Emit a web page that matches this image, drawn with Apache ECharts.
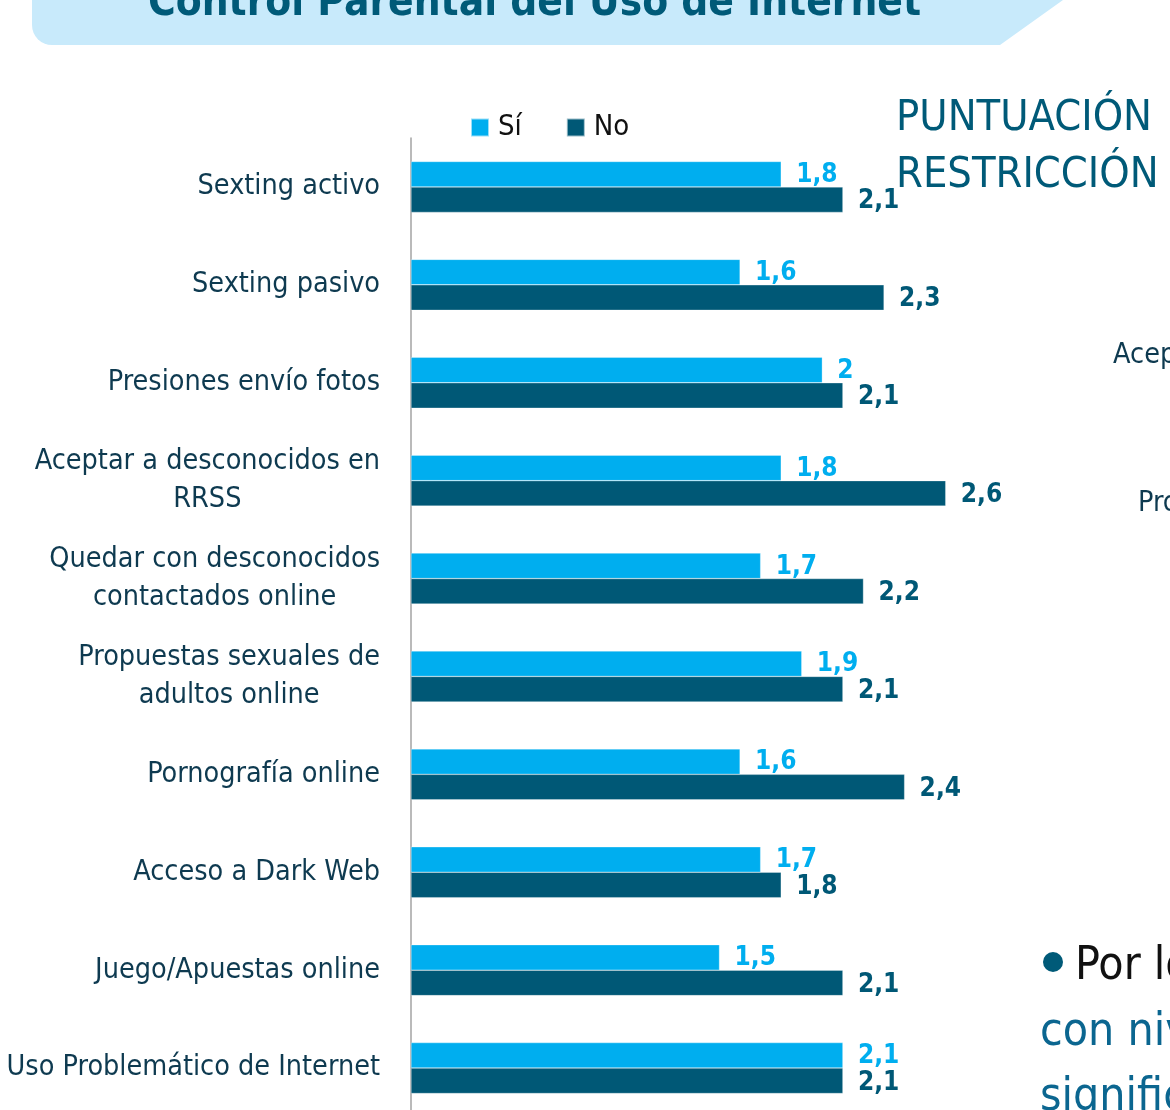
<!DOCTYPE html>
<html>
<head>
<meta charset="utf-8">
<title>Control Parental del Uso de Internet</title>
<script src="https://cdn.jsdelivr.net/npm/echarts@6/dist/echarts.min.js"></script>
<style>
  html, body { margin: 0; padding: 0; background: #ffffff; overflow: hidden; }
  #chart { width: 1170px; height: 1110px; }
</style>
</head>
<body>
<div id="chart"></div>
<script>
// Risk behaviours (top to bottom)
const categories = [
  'Sexting activo',
  'Sexting pasivo',
  'Presiones envío fotos',
  'Aceptar a desconocidos en\nRRSS',
  'Quedar con desconocidos\ncontactados online',
  'Propuestas sexuales de\nadultos online',
  'Pornografía online',
  'Acceso a Dark Web',
  'Juego/Apuestas online',
  'Uso Problemático de Internet'
];
// Restriction score with / without parental control
const valuesSi = [1.8, 1.6, 2, 1.8, 1.7, 1.9, 1.6, 1.7, 1.5, 2.1];
const valuesNo = [2.1, 2.3, 2.1, 2.6, 2.2, 2.1, 2.4, 1.8, 2.1, 2.1];
const seriesNames = ['Sí', 'No'];

const FONT = '"Liberation Sans Narrow", "DejaVu Sans Condensed", "Noto Sans", sans-serif';
const COLOR_SI = '#00aeef';
const COLOR_NO = '#005876';
const TEAL = '#005a78';
const NAVY = '#0e3a50';

const fmt = v => String(v).replace('.', ',');

const chart = echarts.init(document.getElementById('chart'));

chart.setOption({
  animation: false,
  textStyle: { fontFamily: FONT },
  legend: {
    data: seriesNames,
    left: 470,
    top: 113,
    padding: 0,
    icon: 'rect',
    itemWidth: 18,
    itemHeight: 18,
    itemGap: 44,
    textStyle: { fontSize: 29, color: '#111111', fontFamily: FONT, padding: [0, 0, 0, 4], lineHeight: 29 }
  },
  grid: { left: 411, top: 138, right: 142, bottom: -7, containLabel: false, outerBoundsMode: 'none' },
  xAxis: {
    type: 'value',
    min: 0,
    max: 3,
    show: false
  },
  yAxis: {
    type: 'category',
    data: categories,
    inverse: true,
    axisLine: { show: true, lineStyle: { color: '#a3a3a3', width: 1.5 } },
    axisTick: { show: false },
    splitLine: { show: false },
    axisLabel: {
      margin: 31,
      color: NAVY,
      fontSize: 28.5,
      fontFamily: FONT,
      lineHeight: 38,
      formatter: v => '{c|' + v + '}',
      rich: { c: { align: 'center', fontSize: 28.5, lineHeight: 38, color: NAVY, fontFamily: FONT } }
    }
  },
  series: [
    {
      name: seriesNames[0],
      type: 'bar',
      data: valuesSi,
      barGap: '0%',
      barCategoryGap: '48%',
      itemStyle: { color: COLOR_SI, borderColor: 'rgba(255,255,255,0.6)', borderWidth: 0.5 },
      label: {
        show: true, position: 'right', distance: 15, offset: [0, 1],
        color: COLOR_SI, fontWeight: 'bold', fontSize: 26, fontFamily: FONT,
        formatter: p => fmt(p.value)
      }
    },
    {
      name: seriesNames[1],
      type: 'bar',
      data: valuesNo,
      barGap: '0%',
      barCategoryGap: '48%',
      itemStyle: { color: COLOR_NO, borderColor: 'rgba(255,255,255,0.6)', borderWidth: 0.5 },
      label: {
        show: true, position: 'right', distance: 15, offset: [0, 2],
        color: COLOR_NO, fontWeight: 'bold', fontSize: 26, fontFamily: FONT,
        formatter: p => fmt(p.value)
      }
    }
  ],
  graphic: [
    // header banner
    {
      type: 'rect', z: 0,
      shape: { x: 32, y: -30, width: 968, height: 75, r: [0, 0, 0, 20] },
      style: { fill: '#c8eafb' }
    },
    {
      type: 'polygon', z: 0,
      shape: { points: [[990, -30], [1105, -30], [1000, 45], [990, 45]] },
      style: { fill: '#c8eafb' }
    },
    {
      type: 'text', z: 1, left: 148, top: -17,
      style: { text: 'Control Parental del Uso de Internet', fill: TEAL, font: 'bold 42px ' + FONT }
    },
    // side panel text
    {
      type: 'text', left: 896, top: 97,
      style: { text: 'PUNTUACIÓN', fill: TEAL, font: '43px ' + FONT }
    },
    {
      type: 'text', left: 896, top: 154,
      style: { text: 'RESTRICCIÓN', fill: TEAL, font: '43px ' + FONT }
    },
    {
      type: 'text', left: 1113, top: 341,
      style: { text: 'Aceptar a desconocidos', fill: NAVY, font: '28.5px ' + FONT }
    },
    {
      type: 'text', left: 1138, top: 489,
      style: { text: 'Propuestas sexuales', fill: NAVY, font: '28.5px ' + FONT }
    },
    {
      type: 'circle',
      shape: { cx: 1053, cy: 962, r: 10 },
      style: { fill: TEAL }
    },
    {
      type: 'text', left: 1075, top: 944,
      style: { text: 'Por lo general', fill: '#111111', font: '46px ' + FONT }
    },
    {
      type: 'text', left: 1040, top: 1010,
      style: { text: 'con niveles', fill: '#0b6690', font: '46px ' + FONT }
    },
    {
      type: 'text', left: 1040, top: 1075,
      style: { text: 'significativamente', fill: '#0b6690', font: '46px ' + FONT }
    }
  ]
});
</script>
</body>
</html>
